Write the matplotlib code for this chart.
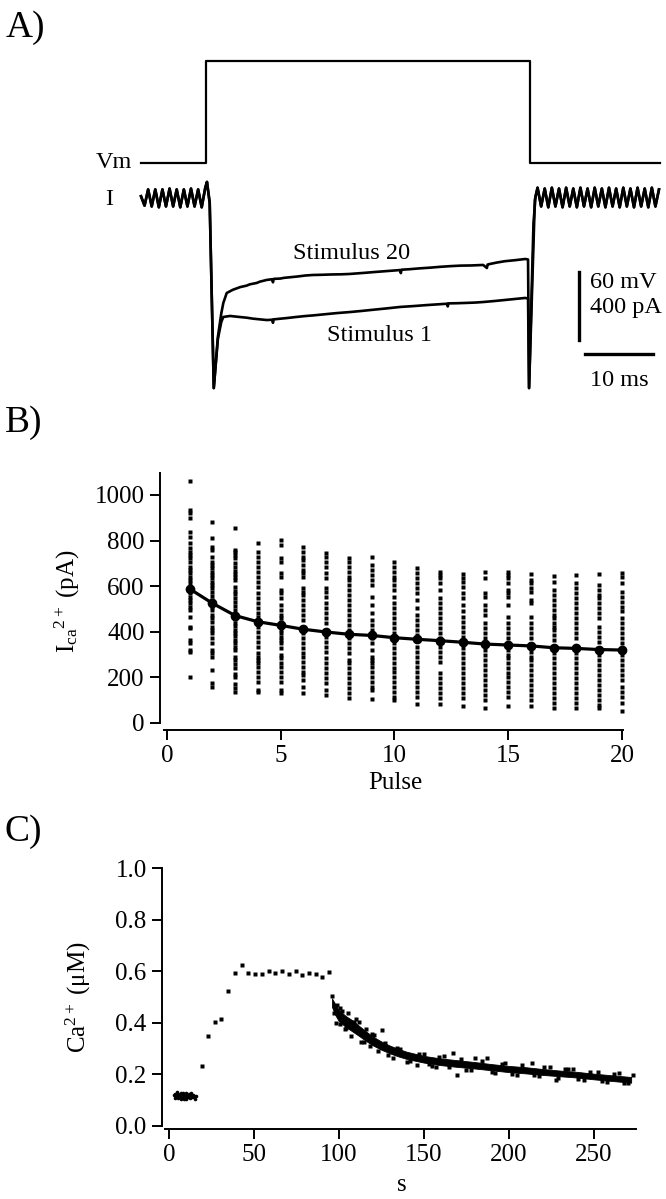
import numpy as np
import matplotlib
matplotlib.use('Agg')
import matplotlib.pyplot as plt

plt.rcParams['font.family'] = ['Liberation Serif', 'DejaVu Serif']
plt.rcParams['mathtext.fontset'] = 'custom'
plt.rcParams['mathtext.rm'] = 'Liberation Serif'
plt.rcParams['mathtext.it'] = 'Liberation Serif:italic'
plt.rcParams['mathtext.bf'] = 'Liberation Serif:bold'

# ---------------- A) voltage step and Ca currents ----------------
vm_t = [0.0, 9.6, 9.6, 57.2, 57.2, 76.3]          # ms
vm_mv = [-80, -80, 10, 10, -80, -80]               # mV

ripple_dt = 0.525                                  # ms between ripple peaks/troughs
ripple_pre = [10, -45, 50, -50, 50, -55, 50, -50, 55, -50,
              50, -55, 50, -50, 55, -50, 50, -55, 60]
ripple_post = [60, -50, 55, -55, 60, -50, 55, -55, 60, -50,
               55, -55, 60, -50, 55, -55, 60, -50, 55, -55,
               60, -50, 55, -55, 60, -50, 55, -55, 60, -50,
               55, -55, 60, -50, 50]
ripple_post_start = 58.3

stim20_t = [9.7, 10.1, 10.7, 11.3, 11.8, 12.1, 12.6, 13.5, 14.6, 15.5, 16.0, 17.0, 17.5,
            18.5, 19.3, 19.4, 19.5, 20.5, 21.0, 22.0, 23.0, 24.2, 25.3, 26.5, 28.0, 29.5,
            30.7, 32.0, 33.0, 34.2, 35.5, 36.8, 38.1, 38.2, 38.3, 39.5, 41.0, 42.5, 44.0,
            45.5, 47.0, 48.6, 50.3, 50.85, 50.95, 51.1, 52.3, 53.5, 55.0, 56.5, 56.9, 57.05, 57.9]
stim20_pa = [94, -29, -1118, -818, -680, -618, -559, -540, -524, -516, -508, -500, -492,
             -482, -478, -496, -476, -474, -470, -466, -462, -456, -453, -452, -450, -449,
             -447, -443, -440, -436, -432, -428, -424, -442, -422, -419, -414, -410, -405,
             -401, -398, -397, -394, -412, -392, -390, -380, -372, -366, -359, -362, -1118, -12]

stim1_t = [9.7, 10.1, 10.7, 11.3, 11.8, 12.1, 13.1, 14.5, 15.5, 16.5, 17.5, 18.5,
           19.3, 19.4, 19.5, 20.5, 21.5, 22.8, 24.0, 25.5, 27.0, 28.8, 30.7, 32.3, 34.0,
           36.0, 38.1, 40.0, 42.0, 43.5, 45.0, 45.1, 45.2, 46.5, 48.0, 49.2, 50.3, 52.0,
           53.5, 55.0, 56.5, 56.9, 57.05, 57.7, 58.0]
stim1_pa = [94, -29, -1118, -830, -730, -700, -694, -700, -704, -710, -714, -718,
            -716, -734, -714, -710, -706, -700, -695, -690, -684, -677, -671, -665, -658,
            -650, -641, -636, -630, -626, -622, -638, -620, -619, -617, -615, -612, -606,
            -600, -594, -588, -592, -1118, -150, 10]

# ---------------- B) peak current per pulse ----------------
pulses = np.arange(1, 21)
mean_pa = [588, 525, 471, 444, 428, 411, 399, 389, 384, 374,
           367, 361, 354, 346, 342, 338, 330, 327, 322, 320]
cells_pa = [
    [1061, 934, 922, 897, 839, 817, 788, 766, 751, 737, 722, 708, 686, 671, 656, 642, 627, 613, 598,
     569, 554, 539, 525, 510, 496, 466, 422, 415, 364, 349, 320, 310, 203],
    [883, 810, 773, 759, 729, 708, 693, 678, 664, 649, 635, 620, 605, 591, 576, 557, 539, 510, 496,
     474, 459, 444, 422, 408, 393, 371, 349, 320, 305, 291, 232, 174, 159],
    [857, 760, 750, 738, 725, 700, 685, 668, 655, 640, 628, 598, 580, 565, 548, 530, 512, 496, 455,
     440, 425, 410, 396, 380, 365, 350, 335, 320, 290, 275, 258, 243, 215, 200, 170, 155, 135],
    [788, 751, 729, 708, 686, 664, 642, 620, 598, 569, 547, 525, 503, 481, 466, 422, 400, 378, 356,
     335, 305, 291, 276, 262, 247, 225, 203, 181, 145, 135],
    [803, 781, 722, 708, 656, 642, 583, 569, 547, 518, 496, 474, 459, 444, 408, 393, 378, 364, 349,
     327, 298, 283, 262, 247, 225, 203, 181, 145, 130],
    [770, 751, 729, 715, 693, 671, 656, 639, 591, 576, 561, 539, 518, 496, 474, 452, 393, 371, 349,
     327, 305, 291, 269, 247, 225, 210, 188, 159, 130],
    [744, 729, 708, 686, 656, 635, 591, 576, 554, 525, 503, 481, 459, 437, 378, 356, 335, 313, 283,
     262, 240, 218, 196, 174, 145, 123],
    [722, 708, 686, 664, 642, 627, 605, 583, 561, 539, 518, 496, 474, 452, 430, 408, 371, 349, 327,
     305, 276, 262, 240, 218, 196, 174, 152, 130, 108],
    [729, 693, 671, 649, 627, 605, 554, 518, 481, 452, 430, 408, 371, 349, 320, 291, 276, 262, 247,
     225, 203, 181, 159, 145, 104],
    [707, 686, 664, 642, 627, 605, 583, 554, 525, 503, 481, 459, 437, 415, 393, 349, 327, 305, 283,
     262, 240, 225, 203, 181, 159, 137, 115, 101],
    [678, 656, 635, 613, 591, 569, 539, 503, 474, 452, 430, 408, 386, 335, 313, 291, 269, 247, 225,
     203, 181, 159, 137, 115, 83],
    [661, 649, 635, 613, 583, 547, 525, 503, 481, 459, 437, 415, 393, 371, 335, 313, 291, 269, 218,
     196, 174, 152, 130, 108, 83],
    [653, 635, 620, 598, 569, 547, 518, 489, 466, 444, 422, 400, 378, 327, 305, 283, 262, 240, 218,
     196, 174, 152, 130, 108, 75],
    [664, 635, 569, 554, 518, 496, 474, 437, 415, 393, 371, 320, 298, 276, 254, 232, 210, 188, 166,
     145, 123, 101, 64],
    [664, 649, 635, 613, 583, 569, 554, 518, 466, 437, 415, 393, 371, 320, 298, 283, 262, 240, 218,
     203, 181, 159, 137, 115, 75],
    [653, 627, 613, 591, 576, 539, 525, 466, 437, 415, 393, 371, 313, 291, 276, 254, 232, 210, 188,
     166, 145, 123, 101, 75],
    [645, 620, 583, 561, 539, 518, 496, 474, 459, 437, 422, 408, 386, 364, 305, 283, 262, 240, 218,
     196, 174, 152, 130, 108, 86, 64],
    [650, 613, 591, 569, 547, 525, 503, 481, 459, 437, 415, 393, 371, 305, 283, 262, 240, 218, 196,
     174, 152, 130, 108, 86, 64],
    [653, 605, 583, 561, 547, 525, 503, 481, 459, 422, 400, 378, 356, 298, 276, 254, 232, 210, 188,
     166, 145, 123, 101, 79, 64],
    [656, 639, 613, 576, 554, 532, 510, 489, 459, 437, 415, 393, 371, 349, 298, 276, 254, 232, 210,
     188, 159, 137, 115, 86, 54],
]

# ---------------- C) intracellular Ca ----------------
rest_s = [3.0, 3.5, 4.0, 4.6, 5.1, 5.6, 6.2, 6.7, 7.2, 7.8, 8.3, 8.8, 9.4, 9.9, 10.4,
          11.0, 11.5, 12.0, 12.6, 13.1, 13.6, 14.2, 14.7, 15.2, 15.8,
          3.8, 5.3, 6.9, 8.5, 10.1, 11.7, 13.3, 14.9]
rest_um = [0.120, 0.125, 0.113, 0.130, 0.118, 0.108, 0.122, 0.115, 0.128, 0.112, 0.120, 0.104,
           0.118, 0.126, 0.110, 0.120, 0.114, 0.124, 0.108, 0.118, 0.112, 0.122, 0.116, 0.106,
           0.118, 0.108, 0.124, 0.106, 0.126, 0.104, 0.122, 0.126, 0.112]

train_s = [19.3, 23.2, 27.0, 30.9, 34.8, 38.9, 42.9, 46.8, 50.7, 54.6,
           58.8, 62.6, 66.8, 70.7, 74.6, 78.5, 82.7, 86.4, 90.3, 94.4]
train_um = [0.234, 0.349, 0.405, 0.415, 0.524, 0.594, 0.624, 0.593, 0.589, 0.589,
            0.601, 0.595, 0.603, 0.590, 0.603, 0.586, 0.593, 0.591, 0.579, 0.596]

decay_s = [96, 98, 100, 104, 108, 112, 116, 120, 125, 130, 135, 140, 150,
           160, 170, 180, 190, 200, 210, 220, 230, 240, 250, 260, 272]
decay_hi = [0.495, 0.472, 0.450, 0.427, 0.410, 0.388, 0.367, 0.347, 0.328, 0.312, 0.299, 0.288,
            0.272, 0.262, 0.255, 0.248, 0.240, 0.233, 0.228, 0.221, 0.215, 0.210, 0.203, 0.197, 0.190]
decay_lo = [0.462, 0.430, 0.407, 0.385, 0.367, 0.349, 0.330, 0.313, 0.296, 0.282, 0.270, 0.260,
            0.246, 0.236, 0.229, 0.223, 0.216, 0.209, 0.204, 0.198, 0.193, 0.188, 0.181, 0.175, 0.168]
stray_s = [95.8, 97.0, 98.1, 99.0, 100.5, 102.0, 103.5, 105.5, 107.0, 109.0, 111.8, 112.8,
           114.3, 116.0, 118.5, 121.0, 125.5, 123.0, 127.0, 132.0, 136.0, 140.0, 145.8, 150.0,
           155.0, 157.2, 162.0, 167.2, 169.5, 175.0, 180.0, 187.4, 192.0, 198.0, 205.0, 213.8,
           218.0, 224.0, 227.5, 233.0, 237.5, 244.0, 252.6, 258.0, 265.0, 270.0, 273.0,
           101.0, 104.5, 110.0, 115.0, 119.5, 129.0, 134.0, 142.0, 147.0, 153.0, 159.0, 165.0,
           172.0, 178.0, 184.0, 190.0, 196.0, 202.0, 208.0, 215.0, 221.0, 229.0, 235.0, 241.0,
           248.0, 255.0, 262.0, 268.0]
stray_um = [0.505, 0.440, 0.400, 0.470, 0.395, 0.445, 0.375, 0.440, 0.350, 0.405, 0.405, 0.327,
            0.353, 0.375, 0.310, 0.352, 0.373, 0.290, 0.322, 0.265, 0.300, 0.248, 0.237, 0.280,
            0.232, 0.230, 0.272, 0.282, 0.198, 0.218, 0.262, 0.262, 0.205, 0.245, 0.196, 0.243,
            0.192, 0.228, 0.178, 0.220, 0.220, 0.180, 0.210, 0.172, 0.205, 0.166, 0.198,
            0.457, 0.380, 0.415, 0.325, 0.358, 0.275, 0.304, 0.252, 0.278, 0.240, 0.268, 0.228,
            0.261, 0.219, 0.254, 0.211, 0.242, 0.203, 0.236, 0.199, 0.227, 0.188, 0.220, 0.183,
            0.210, 0.176, 0.203, 0.165]

fig = plt.figure(figsize=(6.66, 11.99), dpi=100)

# ---- panel A ----
axA = fig.add_axes([0.2117, 0.6664, 0.7793, 0.3003])
axA.set_xlim(0, 76.3)
axA.set_ylim(-1188, 929)
axA.axis('off')

# put Vm on the current axis: 60 mV <-> 400 pA, holding level 206 pA above I baseline
vm_plot = 206 + (np.array(vm_mv) + 80) * 400 / 60
axA.plot(vm_t, vm_plot, color='k', lw=1.6, clip_on=False)

t_pre = np.arange(len(ripple_pre)) * ripple_dt
t_post = ripple_post_start + np.arange(len(ripple_post)) * ripple_dt
for tt, ii in [(stim1_t, stim1_pa), (stim20_t, stim20_pa)]:
    t_full = np.concatenate([t_pre, tt, t_post])
    i_full = np.concatenate([ripple_pre, ii, ripple_post])
    axA.plot(t_full, i_full, color='k', lw=1.9, clip_on=False)

fs = 17.5
axA.text(-1.3, 206, 'Vm', ha='right', va='center', fontsize=fs)
axA.text(-4.7, -12, 'I', ha='center', va='center', fontsize=fs)
axA.text(31.0, -324, 'Stimulus 20', ha='center', va='center', fontsize=fs)
axA.text(35.1, -806, 'Stimulus 1', ha='center', va='center', fontsize=fs)

# scale bars
axA.plot([64.4, 64.4], [-435, -835], color='k', lw=2.4)
axA.plot([65.3, 75.3], [-918, -918], color='k', lw=2.4)
axA.text(66.0, -500, '60 mV', ha='left', va='center', fontsize=fs)
axA.text(66.0, -647, '400 pA', ha='left', va='center', fontsize=fs)
axA.text(66.0, -1071, '10 ms', ha='left', va='center', fontsize=fs)

# ---- panel B ----
axB = fig.add_axes([0.2336, 0.3894, 0.7173, 0.2187])
axB.set_xlim(-0.5, 20.5)
axB.set_ylim(-40, 1110)
for p, vals in zip(pulses, cells_pa):
    axB.plot([p] * len(vals), vals, 's', ms=2.3, color='k', mec='none')
axB.plot(pulses, mean_pa, '-o', color='k', lw=2.3, ms=6)
axB.spines['top'].set_visible(False)
axB.spines['right'].set_visible(False)
axB.spines['left'].set_position(('data', -0.31))
axB.spines['left'].set_bounds(0, 1096)
axB.spines['bottom'].set_position(('data', -31))
axB.spines['bottom'].set_bounds(-0.13, 20.05)
for s in ['left', 'bottom']:
    axB.spines[s].set_linewidth(1.4)
axB.set_xticks([0, 5, 10, 15, 20])
axB.set_yticks([0, 200, 400, 600, 800, 1000])
axB.tick_params(direction='out', length=7, width=1.4, labelsize=18, pad=4)
axB.set_xlabel('Pulse', fontsize=18)
axB.xaxis.set_label_coords(0.501, -0.194)
axB.xaxis.label.set_va('center')
axB.set_ylabel(r'$\mathrm{I_{ca}}^{2+}$ (pA)', fontsize=18)
axB.yaxis.set_label_coords(-0.185, 0.5)
axB.yaxis.label.set_va('center')

# ---- panel C ----
axC = fig.add_axes([0.2381, 0.05446, 0.7249, 0.2257])
axC.set_xlim(-6, 278)
axC.set_ylim(-0.03, 1.02)
axC.plot(rest_s, rest_um, 'o', ms=2.6, color='k', mec='none')
axC.plot(train_s, train_um, 's', ms=2.2, color='k', mec='none')
axC.fill_between(decay_s, decay_lo, decay_hi, color='k', lw=0.6)
axC.plot(stray_s, stray_um, 's', ms=2.2, color='k', mec='none')
axC.spines['top'].set_visible(False)
axC.spines['right'].set_visible(False)
axC.spines['left'].set_position(('data', -4))
axC.spines['left'].set_bounds(0, 1.0)
axC.spines['bottom'].set_position(('data', -0.012))
axC.spines['bottom'].set_bounds(-2.5, 275)
for s in ['left', 'bottom']:
    axC.spines[s].set_linewidth(1.4)
axC.set_xticks([0, 50, 100, 150, 200, 250])
axC.set_yticks([0.0, 0.2, 0.4, 0.6, 0.8, 1.0])
axC.set_yticklabels(['0.0', '0.2', '0.4', '0.6', '0.8', '1.0'])
axC.tick_params(direction='out', length=7, width=1.4, labelsize=18, pad=4)
axC.set_xlabel('s', fontsize=18)
axC.xaxis.set_label_coords(0.504, -0.19)
axC.xaxis.label.set_va('center')
axC.set_ylabel(r'Ca$^{2+}$ (μM)', fontsize=18)
axC.yaxis.set_label_coords(-0.165, 0.505)
axC.yaxis.label.set_va('center')

# panel letters
fig.text(6 / 666, 1 - 28 / 1199, 'A)', fontsize=27, ha='left', va='center')
fig.text(5 / 666, 1 - 423 / 1199, 'B)', fontsize=27, ha='left', va='center')
fig.text(5 / 666, 1 - 832 / 1199, 'C)', fontsize=27, ha='left', va='center')

fig.savefig('out.png', dpi=100)
